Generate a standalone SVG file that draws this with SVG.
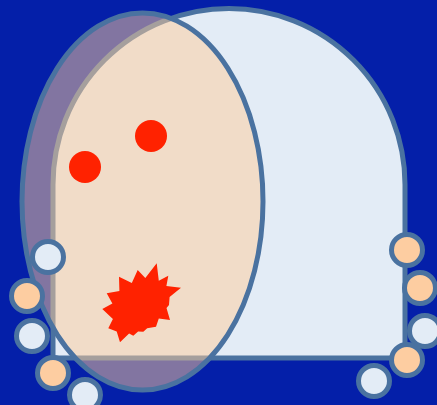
<svg xmlns="http://www.w3.org/2000/svg" width="437" height="405" viewBox="0 0 437 405">
<style>
.ol{stroke:#4A72A0;stroke-width:5}
.lb{fill:#E3ECF6}
.pc{fill:#FDCDA1}
.dot{fill:#FF2200}
</style>
<rect width="437" height="405" fill="#041FA9"/>
<g id="tombstone">
<path class="ol lb" d="M53,358 L53,184.5 A176,176 0 0 1 405,184.5 L405,358 Z"/>
</g>
<g id="ellipse">
<ellipse cx="142.5" cy="201.5" rx="120.5" ry="188.5" fill="#FFCC99" fill-opacity="0.5" stroke="#4A72A0" stroke-width="5"/>
</g>
<g id="dot1"><circle class="dot" cx="85" cy="167" r="16"/></g>
<g id="dot2"><circle class="dot" cx="151" cy="136" r="16"/></g>
<g id="burst">
<polygon class="dot" points="102.3,309 112.4,303.4 106.7,293.3 119.4,291 119,276.7 131.8,282.9 137.7,270 145.3,278 156.7,263.3 158.8,280.7 168.3,275.7 166.4,286.1 181,287.7 169.6,296.9 169,305 166.5,308 170,320 158.8,318.5 156,326.7 147.2,328.2 143.3,331.7 138.1,331.5 133.3,335.7 129.1,333.6 120,342.3 116.7,331.5 108.3,328.3 112.9,319"/>
</g>
<g id="c1"><circle class="ol lb" cx="48" cy="257" r="15.5"/></g>
<g id="c2"><circle class="ol pc" cx="27" cy="296" r="15.5"/></g>
<g id="c3"><circle class="ol lb" cx="32" cy="336" r="15.5"/></g>
<g id="c4"><circle class="ol pc" cx="53" cy="373" r="15.5"/></g>
<g id="c5"><circle class="ol lb" cx="85" cy="395" r="15.5"/></g>
<g id="c6"><circle class="ol pc" cx="407" cy="250" r="15.5"/></g>
<g id="c7"><circle class="ol pc" cx="420" cy="288" r="15.5"/></g>
<g id="c8"><circle class="ol lb" cx="425" cy="331" r="15.5"/></g>
<g id="c9"><circle class="ol pc" cx="407" cy="360" r="15.5"/></g>
<g id="c10"><circle class="ol lb" cx="374" cy="381" r="15.5"/></g>
<g id="connectors"></g>
</svg>
